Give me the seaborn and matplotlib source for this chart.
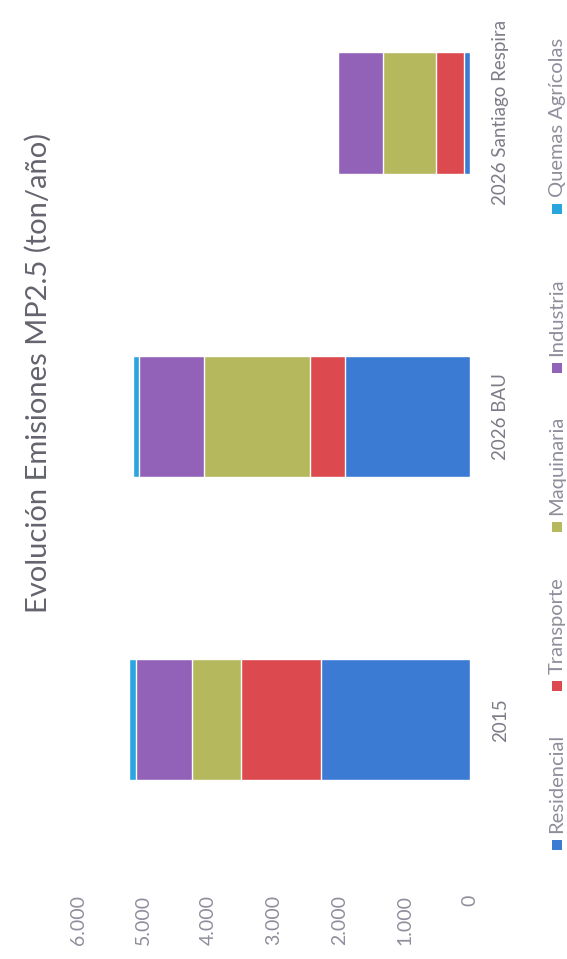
import matplotlib
matplotlib.use('Agg')
import matplotlib.pyplot as plt
from matplotlib.patches import Rectangle
import seaborn as sns
import pandas as pd

categories = ['2015', '2026 BAU', '2026 Santiago Respira']
residencial = [2280, 1910, 90]
transporte = [1225, 540, 430]
maquinaria = [750, 1620, 810]
industria = [860, 995, 690]
quemas = [110, 90, 0]

series_names = ['Residencial', 'Transporte', 'Maquinaria', 'Industria', 'Quemas Agrícolas']
colors = ['#3b7bd4', '#dc4a4f', '#b6b85e', '#9262b9', '#2aa6df']
ticks = [0, 1000, 2000, 3000, 4000, 5000, 6000]

df = pd.DataFrame({'cat': categories, 'Residencial': residencial, 'Transporte': transporte,
                   'Maquinaria': maquinaria, 'Industria': industria, 'Quemas Agrícolas': quemas})
cum = df[series_names].cumsum(axis=1)

sns.set_style('white')
plt.rcParams['font.family'] = ['Lato', 'DejaVu Sans']

W, H = 567, 959
fig = plt.figure(figsize=(W / 100, H / 100), dpi=100)
# plot area, chart is drawn rotated 90 degrees (values grow to the left)
ax = fig.add_axes([78 / W, (H - 871.5) / H, 392 / W, 871.5 / H])

order = categories[::-1]
# stacked bars: draw cumulative totals from the largest down
for name, col in zip(series_names[::-1], colors[::-1]):
    sns.barplot(x=cum[name], y=df['cat'], order=order, orient='h', color=col,
                width=0.4, saturation=1, errorbar=None, ax=ax)

ax.set_xlim(6000, 0)
ax.set_ylim(2.5, -0.372)
ax.set_xlabel('')
ax.set_ylabel('')
for s in ax.spines.values():
    s.set_visible(False)

ax.set_xticks(ticks)
ax.set_xticklabels([f'{t:,}'.replace(',', '.') for t in ticks])
ax.tick_params(axis='x', length=0, pad=17, labelsize=14, labelcolor='#8e8e9c', labelrotation=90)

ax.yaxis.tick_right()
ax.tick_params(axis='y', length=0, pad=16, labelsize=13.5, labelcolor='#7c7c88')
for lab in ax.get_yticklabels():
    lab.set_rotation(90)
    lab.set_va('center')

fig.text(38 / W, 1 - 373 / H, 'Evolución Emisiones MP2.5 (ton/año)', rotation=90,
         ha='center', va='center', fontsize=21, color='#64646e')

# legend laid out along the right edge
for i, (name, col) in enumerate(zip(series_names, colors)):
    y = 845 - i * 159
    fig.add_artist(Rectangle(((557 - 5) / W, 1 - (y + 5) / H), 10 / W, 10 / H,
                             transform=fig.transFigure, color=col, lw=0))
    fig.text(557 / W, 1 - (y - 12) / H, name, rotation=90, ha='center', va='bottom',
             fontsize=14.5, color='#8e8e9c')

fig.savefig('out.png', dpi=100)
